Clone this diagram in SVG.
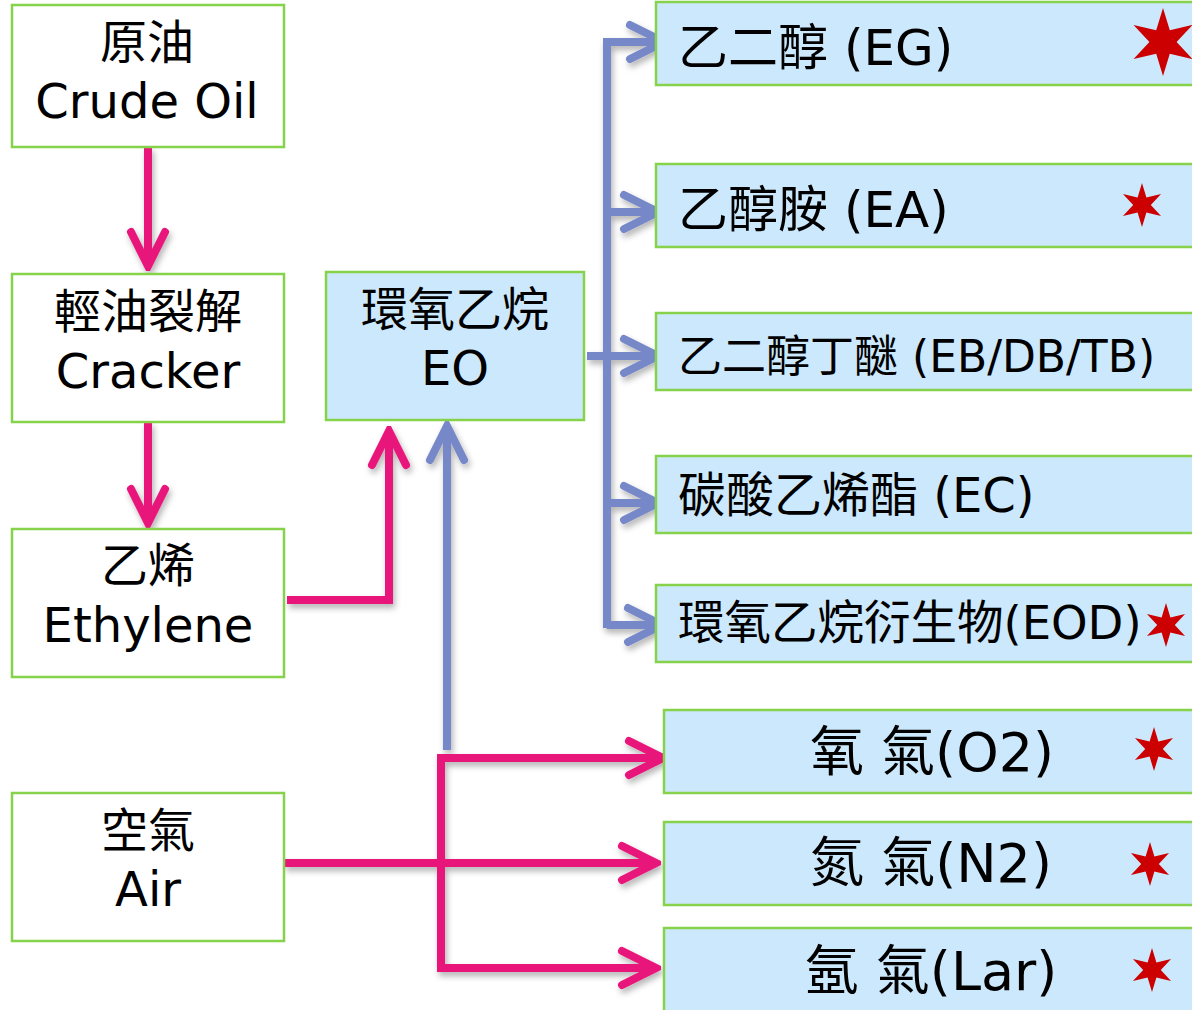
<svg xmlns="http://www.w3.org/2000/svg" width="1192" height="1010" viewBox="0 0 1192 1010">
<style>
  .box { stroke: #86D24A; stroke-width: 2.5; }
  .w { fill: #FFFFFF; }
  .b { fill: #CCE8FC; }
  text { font-family: "DejaVu Sans", "Noto Sans CJK TC", sans-serif; fill: #000; }
  .c { text-anchor: middle; }
  .pk { fill: none; stroke: #E8177A; stroke-width: 8; }
  .bl { fill: none; stroke: #7688C8; stroke-width: 8; }
  .star { fill: #CC0000; }
</style>
<defs>
  <filter id="sh" x="-20%" y="-20%" width="140%" height="140%">
    <feDropShadow dx="2" dy="4" stdDeviation="3" flood-color="#000" flood-opacity="0.3"/>
  </filter>
  <marker id="ap" markerUnits="userSpaceOnUse" viewBox="-45 -25 50 50" refX="0" refY="0" markerWidth="50" markerHeight="50" orient="auto">
    <path d="M-34,-17 L0,0 L-34,17" fill="none" stroke="#E8177A" stroke-width="8" stroke-linecap="round" stroke-linejoin="miter"/>
  </marker>
  <marker id="ab" markerUnits="userSpaceOnUse" viewBox="-45 -25 50 50" refX="0" refY="0" markerWidth="50" markerHeight="50" orient="auto">
    <path d="M-34,-17 L0,0 L-34,17" fill="none" stroke="#7688C8" stroke-width="8" stroke-linecap="round" stroke-linejoin="miter"/>
  </marker>
  <polygon id="st" points="0,-1 0.2,-0.3464 0.866,-0.5 0.4,0 0.866,0.5 0.2,0.3464 0,1 -0.2,0.3464 -0.866,0.5 -0.4,0 -0.866,-0.5 -0.2,-0.3464"/>
</defs>

<g id="connectors" filter="url(#sh)">
  <path class="pk" d="M148,147 V266" marker-end="url(#ap)"/>
  <path class="pk" d="M148,422 V523" marker-end="url(#ap)"/>
  <path class="pk" d="M287,600 H389 V431" marker-end="url(#ap)"/>
  <path class="bl" d="M447,750 V426" marker-end="url(#ab)"/>
  <path class="bl" d="M607,628 V42"/>
  <path class="bl" d="M603,42 H664" marker-end="url(#ab)"/>
  <path class="bl" d="M607,212 H658" marker-end="url(#ab)"/>
  <path class="bl" d="M587,356 H658" marker-end="url(#ab)"/>
  <path class="bl" d="M607,503 H658" marker-end="url(#ab)"/>
  <path class="bl" d="M607,625 H662" marker-end="url(#ab)"/>
  <path class="pk" d="M441,972 V758"/>
  <path class="pk" d="M437,758 H663" marker-end="url(#ap)"/>
  <path class="pk" d="M284,863 H656" marker-end="url(#ap)"/>
  <path class="pk" d="M437,968 H656" marker-end="url(#ap)"/>
</g>

<g id="crude">
  <rect class="box w" x="12" y="5" width="272" height="142"/>
  <text class="c" x="147" y="59" font-size="47">原油</text>
  <text class="c" x="147" y="118" font-size="48">Crude Oil</text>
</g>
<g id="cracker">
  <rect class="box w" x="12" y="274" width="272" height="148"/>
  <text class="c" x="148" y="328" font-size="47">輕油裂解</text>
  <text class="c" x="148" y="388" font-size="48">Cracker</text>
</g>
<g id="ethylene">
  <rect class="box w" x="12" y="529" width="272" height="148"/>
  <text class="c" x="148" y="582" font-size="47">乙烯</text>
  <text class="c" x="148" y="642" font-size="48">Ethylene</text>
</g>
<g id="air">
  <rect class="box w" x="12" y="793" width="272" height="148"/>
  <text class="c" x="148" y="847" font-size="47">空氣</text>
  <text class="c" x="148" y="906" font-size="48">Air</text>
</g>
<g id="eo">
  <rect class="box b" x="326" y="272" width="258" height="148"/>
  <text class="c" x="455" y="326" font-size="47">環氧乙烷</text>
  <text class="c" x="455" y="385" font-size="48">EO</text>
</g>

<g id="eg">
  <rect class="box b" x="656" y="2" width="540" height="83"/>
  <text x="678" y="65" font-size="50">乙二醇 (EG)</text>
  <use href="#st" class="star" transform="translate(1163,42) scale(34)"/>
</g>
<g id="ea">
  <rect class="box b" x="656" y="164" width="540" height="83"/>
  <text x="678" y="227" font-size="50">乙醇胺 (EA)</text>
  <use href="#st" class="star" transform="translate(1142,205) scale(22)"/>
</g>
<g id="eb">
  <rect class="box b" x="656" y="313" width="540" height="77"/>
  <text x="678" y="372" font-size="44">乙二醇丁醚 (EB/DB/TB)</text>
</g>
<g id="ec">
  <rect class="box b" x="656" y="456" width="540" height="77"/>
  <text x="678" y="512" font-size="48">碳酸乙烯酯 (EC)</text>
</g>
<g id="eod">
  <rect class="box b" x="656" y="585" width="540" height="77"/>
  <text x="678" y="639" font-size="46.5">環氧乙烷衍生物(EOD)</text>
  <use href="#st" class="star" transform="translate(1166,625) scale(22)"/>
</g>
<g id="o2">
  <rect class="box b" x="664" y="710" width="532" height="83"/>
  <text class="c" x="932" y="771" font-size="54">氧 氣(O2)</text>
  <use href="#st" class="star" transform="translate(1154,749) scale(22)"/>
</g>
<g id="n2">
  <rect class="box b" x="664" y="822" width="532" height="83"/>
  <text class="c" x="931" y="882" font-size="54">氮 氣(N2)</text>
  <use href="#st" class="star" transform="translate(1150,864) scale(22)"/>
</g>
<g id="lar">
  <rect class="box b" x="664" y="928" width="532" height="90"/>
  <text class="c" x="931" y="990" font-size="54">氬 氣(Lar)</text>
  <use href="#st" class="star" transform="translate(1152,970) scale(22)"/>
</g>
</svg>
